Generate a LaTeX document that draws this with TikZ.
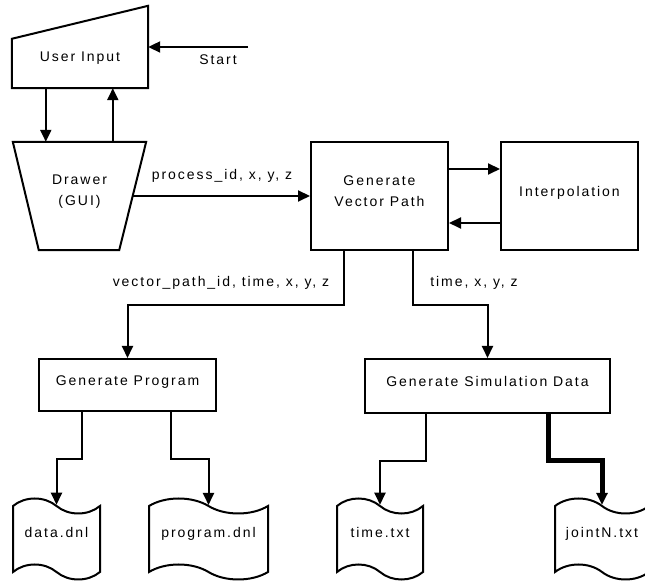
\documentclass[tikz,border=0pt]{standalone}
\usepackage{fontspec}
\setmainfont{Liberation Sans}[LetterSpace=14]
\usetikzlibrary{calc,arrows.meta,shapes.symbols}

\tikzset{
  flow/.style={line width=2pt, -{Triangle[length=12pt,width=11pt]}},
  heavyflow/.style={flow, line width=5pt},
  outline/.style={line width=2pt},
  frame/.style={inner sep=0pt},
  box/.style={draw, line width=2pt, align=center, inner sep=0pt,
    text height=10pt, text depth=9pt, font=\fontsize{14}{21}\selectfont},
  lbl/.style={inner sep=0pt, align=center, font=\fontsize{14}{21}\selectfont},
  doc/.style={tape, draw, line width=2pt, inner sep=0pt, minimum height=81pt,
    tape bend top=out and in, tape bend bottom=out and in, tape bend height=15pt,
    text height=10pt, text depth=12pt, font=\fontsize{14}{21}\selectfont},
}

\begin{document}
\begin{tikzpicture}[x=1pt,y=1pt]
  %%%%% START %%%%%
  \useasboundingbox (0,0) rectangle (645,583);
  \clip (0,0) rectangle (645,583);

  % user input, the top edge sloped
  \node[frame, minimum width=136pt, minimum height=82pt] (ui) at (80,536) {};
  \draw[outline] (ui.south west) -- (ui.south east) -- (ui.north east)
    -- ($(ui.north west)+(0,-33)$) -- cycle;
  \node[lbl] (uitext) at (80,525) {User Input};

  \coordinate (start) at (248,536);
  \draw[flow] (start) -- (ui.east);
  \node[lbl] (starttext) at (218,523) {Start};

  % drawer, upside down trapezoid
  \node[frame, minimum width=133pt, minimum height=108pt] (dr) at (79.5,387) {};
  \draw[outline] (dr.north west) -- (dr.north east) -- ($(dr.south east)+(-27,0)$)
    -- ($(dr.south west)+(26,0)$) -- cycle;
  \node[lbl] (drtext) at (79.5,391) {Drawer\\(GUI)};

  \coordinate (uidown) at ($(ui.south west)+(34,0)$);
  \coordinate (uiup) at ($(ui.south west)+(101,0)$);
  \draw[flow] (uidown) -- (uidown |- dr.north);
  \draw[flow] (uiup |- dr.north) -- (uiup);

  % path generation and interpolation
  \node[box, minimum width=137pt, minimum height=108pt, text height=31pt] (gvp) at (379.5,387) {Generate\\Vector Path};
  \node[box, minimum width=137pt, minimum height=108pt] (interp) at (569.5,387) {Interpolation};

  \coordinate (drout) at ($(dr.east)+(-13.5,0)$);
  \draw[flow] (drout) -- (gvp.west);
  \node[lbl] (pidlabel) at (222,407) {process\_id, x, y, z};

  \draw[flow] ($(gvp.east)+(0,27)$) -- ($(interp.west)+(0,27)$);
  \draw[flow] ($(interp.west)+(0,-27)$) -- ($(gvp.east)+(0,-27)$);

  % outputs
  \node[box, minimum width=177pt, minimum height=52pt] (gp) at (127.5,198) {Generate Program};
  \node[box, minimum width=245pt, minimum height=54pt] (gsd) at (487.5,197) {Generate Simulation Data};

  \coordinate (gvpl) at ($(gvp.south west)+(34,0)$);
  \coordinate (gvpr) at ($(gvp.south west)+(103,0)$);
  \draw[flow] (gvpl) -- ++(0,-54) -| (gp.north);
  \draw[flow] (gvpr) -- ++(0,-54) -| (gsd.north);
  \node[lbl] (vplabel) at (221,300) {vector\_path\_id, time, x, y, z};
  \node[lbl] (txyzlabel) at (474,300) {time, x, y, z};

  % files
  \node[doc, minimum width=87pt] (data) at (56.5,44) {data.dnl};
  \node[doc, minimum width=119pt] (prog) at (208.5,44) {program.dnl};
  \node[doc, minimum width=86pt] (timef) at (380,44) {time.txt};
  \node[doc, minimum width=94pt] (joint) at (602,44) {jointN.txt};

  \draw[flow] ($(gp.south west)+(44,0)$) -- ++(0,-47) -| (data.north);
  \draw[flow] ($(gp.south west)+(133,0)$) -- ++(0,-47) -| (prog.north);
  \draw[flow] ($(gsd.south west)+(62,0)$) -- ++(0,-47) -| (timef.north);
  \draw[heavyflow] ($(gsd.south west)+(184,0)$) -- ++(0,-47) -| (joint.north);
  %%%%% END %%%%%
\end{tikzpicture}
\end{document}
